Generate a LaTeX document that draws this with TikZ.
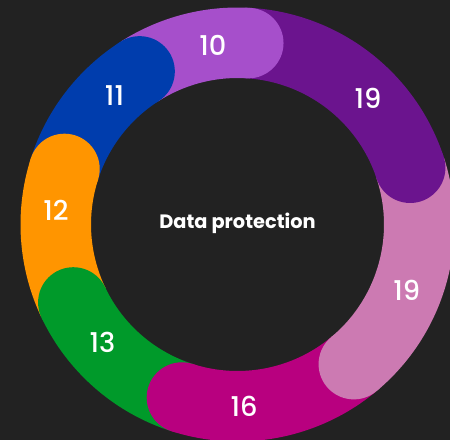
\documentclass[tikz,border=0pt]{standalone}
\usepackage{fontspec}
\setmainfont{Poppins}
\newfontfamily\numfont{Poppins Medium}
\usetikzlibrary{positioning}

\definecolor{bg}{HTML}{222222}
\definecolor{lilac}{HTML}{A64FCB}
\definecolor{plum}{HTML}{6B148E}
\definecolor{rose}{HTML}{CC7AB2}
\definecolor{magenta}{HTML}{B8007F}
\definecolor{leaf}{HTML}{009A2A}
\definecolor{amber}{HTML}{FF9500}
\definecolor{royal}{HTML}{003DAD}

\begin{document}
\begin{tikzpicture}[seg/.style={line width=1.41cm}, val/.style={text=white, font=\numfont\fontsize{15.5}{15.5}\selectfont}, title/.style={text=white, font=\bfseries\fontsize{11}{11}\selectfont}]
    \useasboundingbox (0,0) rectangle (9,-8.8);
    \fill[bg] (0,0) rectangle (9,-8.8);
    \clip (0,0) rectangle (9,-8.8);
    \coordinate (c) at (4.75,-4.49);

    % ring segments, butt ends
    \draw[seg, lilac]   ([shift={(122.6:3.635)}]c) arc[start angle=122.6, end angle=86.6, radius=3.635];
    \draw[seg, plum]    ([shift={(86.6:3.635)}]c) arc[start angle=86.6, end angle=18.2, radius=3.635];
    \draw[seg, rose]    ([shift={(18.2:3.635)}]c) arc[start angle=18.2, end angle=-50.2, radius=3.635];
    \draw[seg, magenta] ([shift={(-50.2:3.635)}]c) arc[start angle=-50.2, end angle=-107.8, radius=3.635];
    \draw[seg, leaf]    ([shift={(-107.8:3.635)}]c) arc[start angle=-107.8, end angle=-154.6, radius=3.635];
    \draw[seg, amber]   ([shift={(-154.6:3.635)}]c) arc[start angle=-154.6, end angle=-197.8, radius=3.635];
    \draw[seg, royal]   ([shift={(-197.8:3.635)}]c) arc[start angle=-197.8, end angle=-237.4, radius=3.635];

    % round caps on top
    \fill[lilac]   ([shift={(86.6:3.635)}]c) circle (0.705);
    \fill[plum]    ([shift={(18.2:3.635)}]c) circle (0.705);
    \fill[rose]    ([shift={(-50.2:3.635)}]c) circle (0.705);
    \fill[magenta] ([shift={(-107.8:3.635)}]c) circle (0.705);
    \fill[leaf]    ([shift={(-154.6:3.635)}]c) circle (0.705);
    \fill[amber]   ([shift={(-197.8:3.635)}]c) circle (0.705);
    \fill[royal]   ([shift={(-237.4:3.635)}]c) circle (0.705);

    \node[val] (v10) at ([shift={(97.8:3.62)}]c) {10};
    \node[val] (v19a) at ([shift={(44:3.63)}]c) {19};
    \node[val] (v19b) at ([shift={(-21.2:3.63)}]c) {19};
    \node[val] (v16) at ([shift={(-87.9:3.63)}]c) {16};
    \node[val] (v13) at ([shift={(-138.8:3.59)}]c) {13};
    \node[val] (v12) at ([shift={(175.7:3.64)}]c) {12};
    \node[val] (v11) at ([shift={(133.7:3.56)}]c) {11};
    \node[title] (t) at ([yshift=0.03cm]c) {Data protection};
\end{tikzpicture}
\end{document}
